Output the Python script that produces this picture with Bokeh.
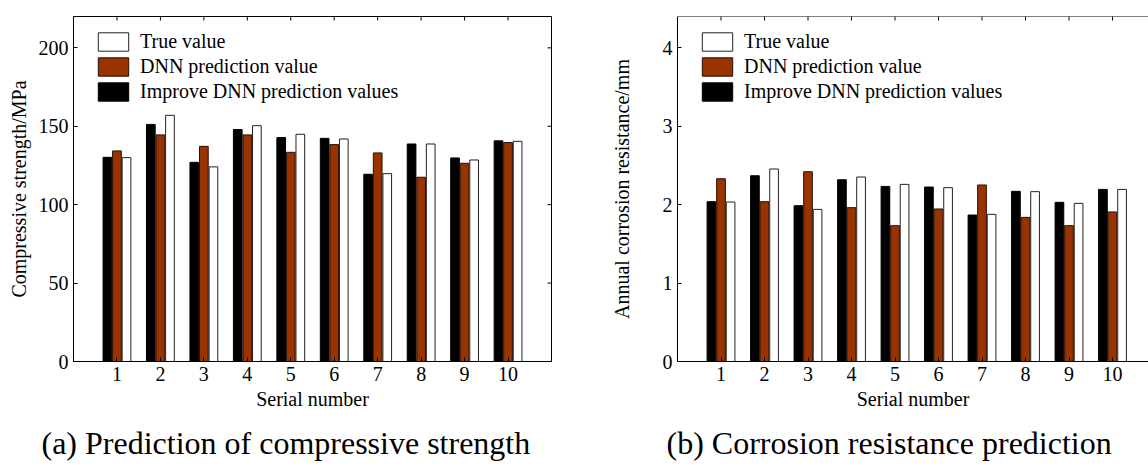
from bokeh.plotting import figure
from bokeh.models import (ColumnDataSource, Range1d, FixedTicker,
                          Legend, LegendItem, Title, Span)
from bokeh.layouts import row
from bokeh.embed import file_html
from bokeh.resources import INLINE
from bokeh.transform import dodge

serial = [1, 2, 3, 4, 5, 6, 7, 8, 9, 10]

strength_improve = [130.2, 151.2, 127.0, 147.9, 142.8, 142.3, 119.4, 138.7, 129.8, 140.7]
strength_dnn = [134.3, 144.5, 137.2, 144.5, 133.4, 138.3, 133.0, 117.5, 126.4, 139.6]
strength_true = [130.0, 157.0, 124.1, 150.4, 144.9, 141.9, 119.8, 138.7, 128.5, 140.4]
strength_ticks = [0, 50, 100, 150, 200]

corr_improve = [2.038, 2.369, 1.987, 2.318, 2.233, 2.225, 1.868, 2.170, 2.030, 2.195]
corr_dnn = [2.331, 2.038, 2.420, 1.962, 1.732, 1.945, 2.251, 1.838, 1.732, 1.907]
corr_true = [2.034, 2.455, 1.940, 2.353, 2.259, 2.217, 1.877, 2.166, 2.017, 2.195]
corr_ticks = [0, 1, 2, 3, 4]

legend_labels = ["True value", "DNN prediction value", "Improve DNN prediction values"]
FONT = "Liberation Serif"
BROWN = "#993300"
FH = 345          # frame height in px
PX_PER_X = 43.5   # px per serial unit
TICK = 4          # inward tick length, px


def make_panel(improve, dnn, true, ymax, yticks, ylabel, caption, xmax,
               bl, br, fw, label_standoff, cap_offset, boxed):
    src = ColumnDataSource(dict(x=serial, imp=improve, dnn=dnn, tru=true))
    p = figure(frame_width=fw, frame_height=FH,
               x_range=Range1d(0, xmax), y_range=Range1d(0, ymax),
               min_border_left=bl, min_border_right=br, min_border_top=16,
               min_border_bottom=113, output_backend="svg",
               toolbar_location=None, background_fill_color="white",
               border_fill_color="white",
               outline_line_color="black" if boxed else None)
    p.xgrid.visible = False
    p.ygrid.visible = False

    r_imp = p.vbar(x=dodge("x", -0.22), top="imp", width=0.2, source=src,
                   fill_color="black", line_color="black", line_width=1)
    r_dnn = p.vbar(x="x", top="dnn", width=0.2, source=src,
                   fill_color=BROWN, line_color="#2a0e00", line_width=1)
    r_tru = p.vbar(x=dodge("x", 0.22), top="tru", width=0.2, source=src,
                   fill_color="white", line_color="#222222", line_width=1)

    for ax in (p.xaxis[0], p.yaxis[0]):
        ax.axis_line_color = "black"
        ax.axis_line_width = 1
        ax.major_tick_in = TICK
        ax.major_tick_out = 0
        ax.minor_tick_line_color = None
        ax.major_tick_line_color = "black"
        ax.major_label_text_font = FONT
        ax.major_label_text_font_size = "20px"
        ax.major_label_text_color = "black"
        ax.major_label_standoff = 5
        ax.axis_label_text_font = FONT
        ax.axis_label_text_font_size = "20px"
        ax.axis_label_text_font_style = "normal"
        ax.axis_label_text_color = "black"

    xa = p.xaxis[0]
    xa.ticker = FixedTicker(ticks=serial)
    xa.axis_label = "Serial number"
    xa.axis_label_standoff = 4
    ya = p.yaxis[0]
    ya.ticker = FixedTicker(ticks=yticks)
    ya.axis_label = ylabel
    ya.axis_label_standoff = label_standoff

    # box: top edge line and inward ticks on top (and right when boxed)
    if not boxed:
        p.add_layout(Span(location=ymax, dimension="width",
                          line_color="black", line_width=1))
    tick_dy = TICK * ymax / FH
    p.segment(x0=serial, y0=[ymax] * len(serial), x1=serial,
              y1=[ymax - tick_dy] * len(serial), line_color="black", line_width=1)
    if boxed:
        tick_dx = TICK / PX_PER_X
        p.segment(x0=[xmax] * len(yticks), y0=yticks,
                  x1=[xmax - tick_dx] * len(yticks), y1=yticks,
                  line_color="black", line_width=1)

    legend = Legend(items=[LegendItem(label=legend_labels[0], renderers=[r_tru]),
                           LegendItem(label=legend_labels[1], renderers=[r_dnn]),
                           LegendItem(label=legend_labels[2], renderers=[r_imp])],
                    location=(21, 258), padding=0, margin=0, spacing=2,
                    glyph_width=38, glyph_height=23, label_standoff=8,
                    label_text_font=FONT, label_text_font_size="20px",
                    label_text_color="black", border_line_color=None,
                    background_fill_alpha=0)
    p.add_layout(legend)

    t = Title(text=caption, align="left", offset=cap_offset,
              text_font=FONT, text_font_size="32px", text_font_style="normal",
              text_color="black", standoff=20)
    p.add_layout(t, "below")
    return p


p1 = make_panel(strength_improve, strength_dnn, strength_true, 220,
                strength_ticks, "Compressive strength/MPa",
                "(a) Prediction of compressive strength", 11,
                73, 49, 478, 6, -32, True)
p2 = make_panel(corr_improve, corr_dnn, corr_true, 4.4,
                corr_ticks, "Annual corrosion resistance/mm",
                "(b) Corrosion resistance prediction", 471 / PX_PER_X,
                77, 0, 471, 27, -11, False)

layout = row(p1, p2)
open("out.html", "w").write(file_html(layout, INLINE))
